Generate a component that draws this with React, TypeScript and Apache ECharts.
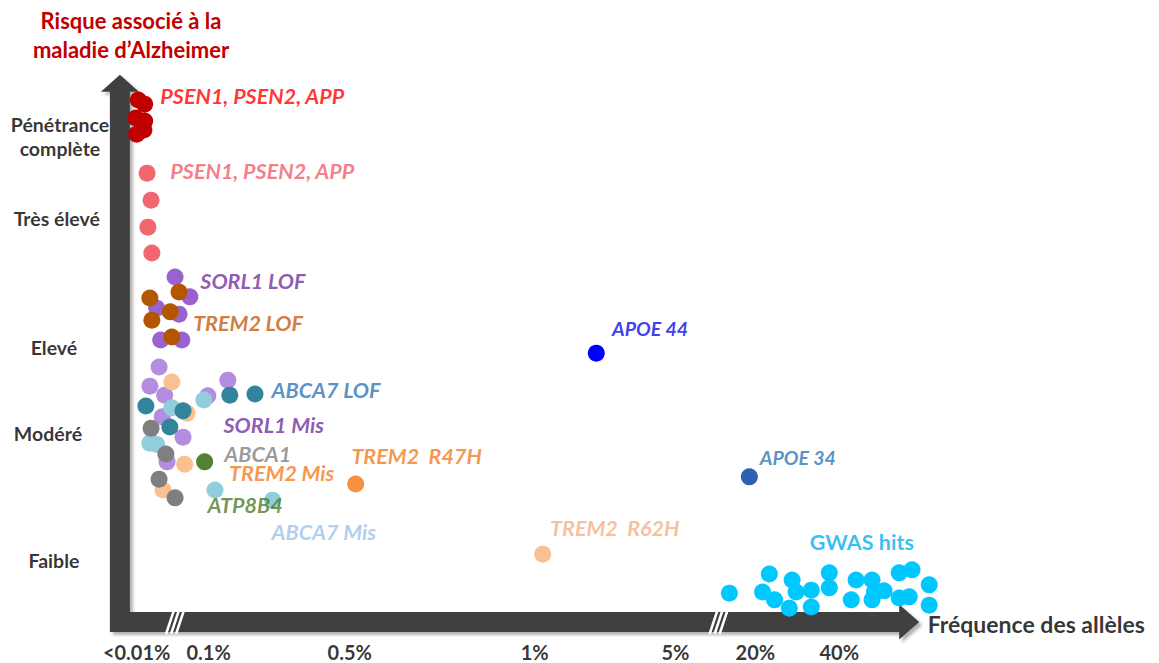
import React, { useEffect, useRef } from "react";
import * as echarts from "echarts";

// Data units: x = position along the (broken, non-linear) frequency axis; y = risk score
const psenComplete = [[2.3, 87.0], [3.1, 86.3], [2.0, 84.0], [3.1, 83.5], [3.0, 82.0], [2.1, 81.3]];
const psenHigh = [[3.4, 74.8], [3.9, 70.3], [3.5, 65.8], [4.0, 61.5]];
const sorl1Lof = [[6.9, 57.5], [8.75, 54.2], [4.6, 52.3], [7.4, 51.3], [5.1, 47.0], [7.75, 47.0]];
const trem2Lof = [[3.75, 54.0], [7.4, 55.0], [6.3, 51.7], [4.0, 50.3], [6.5, 47.5]];
const sorl1Mis = [[4.9, 42.5], [3.75, 39.3], [13.5, 40.3], [5.6, 37.8], [5.3, 34.2], [7.9, 30.8], [5.9, 26.7], [11.0, 37.7], [3.9, 30.0]];
const trem2Mis = [[6.5, 40.0], [8.4, 34.8], [8.1, 26.3], [5.4, 22.0]];
const abca7Mis = [[6.5, 35.7], [10.5, 37.0], [3.75, 29.8], [4.6, 29.6], [11.9, 22.0], [19.1, 20.3]];
const abca7Lof = [[3.25, 36.0], [7.9, 35.2], [6.25, 32.5], [13.75, 37.8], [16.9, 38.0]];
const abca1 = [[3.9, 32.3], [5.75, 28.0], [4.9, 23.8], [6.9, 20.7]];
const atp8b4 = [[10.6, 26.7]];
const trem2R47H = [[29.5, 23.0]];
const trem2R62H = [[52.9, 11.3]];
const apoe44 = [[59.6, 44.8]];
const apoe34 = [[78.75, 24.2]];
const gwasHits = [
  [76.25, 4.8], [81.25, 8.0], [80.4, 5.0], [81.9, 3.7], [84.1, 7.0], [84.6, 5.0], [83.75, 2.3],
  [86.5, 5.3], [86.5, 2.5], [88.75, 8.2], [88.75, 5.7], [91.5, 3.7], [92.1, 7.0], [94.1, 7.0],
  [94.4, 5.0], [94.1, 3.7], [95.6, 5.2], [97.5, 8.2], [99.1, 8.7], [97.5, 4.0], [98.75, 4.2],
  [101.25, 6.2], [101.25, 2.8],
];

// Annotation labels
const annotationTexts = [
  "PSEN1, PSEN2, APP", "PSEN1, PSEN2, APP", "SORL1 LOF", "TREM2 LOF", "APOE 44", "ABCA7 LOF",
  "SORL1 Mis", "ABCA1", "TREM2  R47H", "TREM2 Mis", "APOE 34", "ATP8B4", "ABCA7 Mis", "TREM2  R62H", "GWAS hits",
];
const annotationPos = [
  [5.0, 87.7], [6.25, 75.2], [10.0, 56.8], [9.1, 49.8], [61.5, 49.0], [18.9, 38.7],
  [12.9, 32.8], [13.0, 28.0], [28.9, 27.7], [13.6, 24.9], [80.0, 27.5], [10.9, 19.5], [18.9, 15.0], [53.75, 15.7], [86.25, 13.3],
];

// Risk levels (y-axis categories)
const riskLabels = ["Pénétrance\ncomplète", "Très élevé", "Elevé", "Modéré", "Faible"];
const riskPos = [[-7.5, 81.0], [-7.9, 67.3], [-8.25, 45.8], [-9.0, 31.5], [-8.25, 10.2]];

// Frequency tick labels (x-axis)
const freqLabels = ["<0.01%", "0.1%", "0.5%", "1%", "5%", "20%", "40%"];
const freqPos = [2.1, 11.1, 28.75, 51.9, 69.5, 79.5, 90.0];
const freqLabelY = -5;

const xAxisEnd = 100;
const yAxisEnd = 91.2;
const axisBreaks = [6.9, 74.9];

const annotationColors = [
  "#FF0000", "#F25C6B", "#7030A0", "#C55A11", "#0A0AF0", "#2E75B6",
  "#7030A0", "#7F7F7F", "#F57C1E", "#F57C1E", "#2E75B6", "#4F7A28", "#9DC3E6", "#F4B183", "#00B0F0",
];

const FONT = "Lato, 'Open Sans', sans-serif";

function pointSeries(name: string, data: number[][], color: string, size = 17) {
  return {
    name,
    type: "scatter",
    data,
    symbolSize: size,
    itemStyle: { color, opacity: 1 },
    silent: true,
    clip: false,
    z: 5,
  };
}

function textSeries(data: any[]) {
  return {
    type: "scatter",
    silent: true,
    clip: false,
    symbolSize: 1,
    z: 10,
    itemStyle: { color: "rgba(0,0,0,0)" },
    data,
  };
}

export default function App() {
  const ref = useRef<HTMLDivElement>(null);
  useEffect(() => {
    if (!ref.current) return;
    const chart = echarts.init(ref.current, undefined, { renderer: "svg" });

    const arrowSeries = {
      type: "custom",
      silent: true,
      clip: false,
      z: 1,
      data: [[0, 0]],
      renderItem: (_params: any, api: any) => {
        const o = api.coord([0, 0]);
        const xt = api.coord([xAxisEnd, 0]);
        const yt = api.coord([0, yAxisEnd]);
        const ox = o[0], oy = o[1];
        const tipX = xt[0], tipY = yt[1];
        const pts = [
          [ox - 10, oy + 10],
          [ox - 10, tipY + 17],
          [ox - 19, tipY + 17],
          [ox, tipY],
          [ox + 19, tipY + 17],
          [ox + 10, tipY + 17],
          [ox + 10, oy - 10],
          [tipX - 20, oy - 10],
          [tipX - 20, oy - 17.5],
          [tipX, oy],
          [tipX - 20, oy + 17.5],
          [tipX - 20, oy + 10],
        ];
        const children: any[] = [
          {
            type: "polygon",
            shape: { points: pts },
            style: {
              fill: "#404040",
              shadowColor: "rgba(0,0,0,0.3)",
              shadowBlur: 3,
              shadowOffsetX: 3,
              shadowOffsetY: 3,
            },
          },
        ];
        axisBreaks.forEach((b) => {
          const c = api.coord([b, 0]);
          [-5, 0, 5].forEach((d) => {
            children.push({
              type: "line",
              shape: { x1: c[0] + d - 4, y1: oy + 12, x2: c[0] + d + 4, y2: oy - 12 },
              style: { stroke: "#ffffff", lineWidth: 2.5 },
            });
          });
        });
        return { type: "group", children };
      },
    };

    const annotationSeries = textSeries(
      annotationTexts.map((t, i) => ({
        value: annotationPos[i],
        name: t,
        label: {
          show: true,
          position: "right",
          distance: 0,
          formatter: t,
          color: annotationColors[i],
          fontFamily: FONT,
          fontWeight: "bold",
          fontStyle: t === "GWAS hits" ? "normal" : "italic",
          fontSize: t.startsWith("APOE") ? 19.5 : 21.5,
        },
      }))
    );

    const riskSeries = textSeries(
      riskLabels.map((t, i) => ({
        value: riskPos[i],
        label: {
          show: true,
          position: "inside",
          formatter: t,
          color: "#000000",
          fontFamily: FONT,
          fontWeight: "bold",
          fontSize: 19.5,
          lineHeight: 24,
          align: "center",
        },
      }))
    );

    const freqSeries = textSeries(
      freqLabels
        .map((t, i) => ({
          value: [freqPos[i], freqLabelY],
          label: {
            show: true,
            position: "inside",
            formatter: t,
            color: "#000000",
            fontFamily: FONT,
            fontWeight: "bold",
            fontSize: 20,
          } as any,
        }))
        .concat([
          {
            value: [101, -0.3],
            label: {
              show: true,
              position: "right",
              distance: 0,
              formatter: "Fréquence des allèles",
              color: "#000000",
              fontFamily: FONT,
              fontWeight: "bold",
              fontSize: 23,
            },
          },
        ])
    );

    chart.setOption({
      animation: false,
      backgroundColor: "#ffffff",
      title: {
        text: "Risque associé à la\nmaladie d’Alzheimer",
        left: 126,
        top: 1,
        textAlign: "center",
        textStyle: {
          color: "#C00000",
          fontFamily: FONT,
          fontWeight: "bold",
          fontSize: 22,
          lineHeight: 29,
        },
      },
      grid: { left: 0, right: 0, top: 4, bottom: 5 },
      xAxis: { type: "value", min: -15, max: 130, show: false },
      yAxis: { type: "value", min: -6, max: 103, show: false },
      series: [
        arrowSeries,
        pointSeries("SORL1 Mis", sorl1Mis, "#B28DE0"),
        pointSeries("TREM2 Mis", trem2Mis, "#FAC090"),
        pointSeries("ABCA7 Mis", abca7Mis, "#92CDDC"),
        pointSeries("ABCA7 LOF", abca7Lof, "#31849B"),
        pointSeries("ABCA1", abca1, "#7F7F7F"),
        pointSeries("ATP8B4", atp8b4, "#548235"),
        pointSeries("SORL1 LOF", sorl1Lof, "#9A62D0"),
        pointSeries("TREM2 LOF", trem2Lof, "#B35600"),
        pointSeries("PSEN complete", psenComplete, "#C00000"),
        pointSeries("PSEN high", psenHigh, "#F2676F"),
        pointSeries("TREM2 R47H", trem2R47H, "#F7903F"),
        pointSeries("TREM2 R62H", trem2R62H, "#FAC090"),
        pointSeries("APOE 44", apoe44, "#0000FF"),
        pointSeries("APOE 34", apoe34, "#2F5FB5"),
        pointSeries("GWAS hits", gwasHits, "#00C8FF"),
        annotationSeries,
        riskSeries,
        freqSeries,
      ],
    });
    return () => chart.dispose();
  }, []);
  return (
    <div
      ref={ref}
      style={{ position: "fixed", left: 0, top: 0, width: 1159, height: 663, background: "#fff" }}
    />
  );
}
